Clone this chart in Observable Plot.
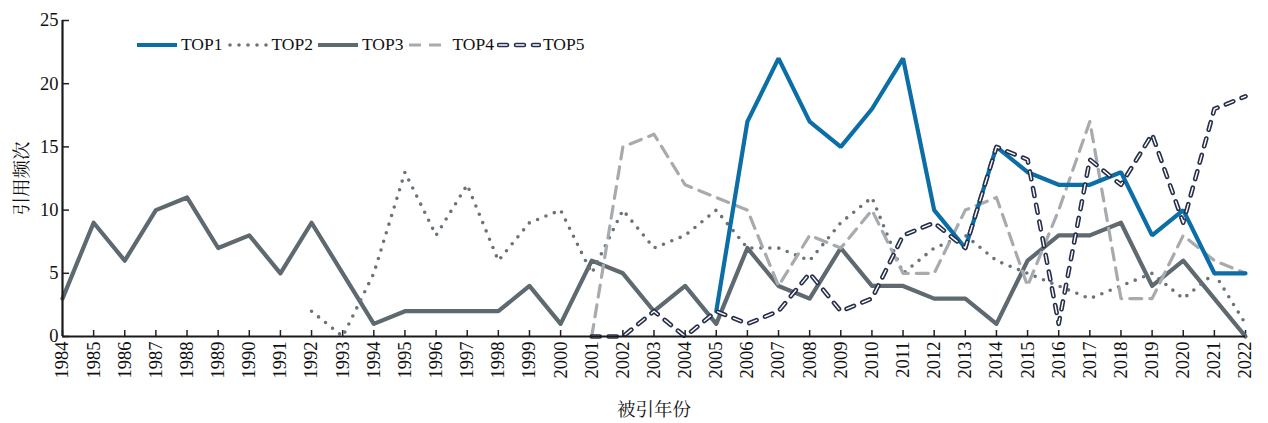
<!DOCTYPE html>
<html><head><meta charset="utf-8">
<script src="https://cdn.jsdelivr.net/npm/d3@7"></script>
<script src="https://cdn.jsdelivr.net/npm/@observablehq/plot@0.6"></script>
<style>
body{margin:0;background:#fff;}
#wrap{position:relative;width:1268px;height:423px;}
#legend{position:absolute;left:135px;top:34px;display:flex;align-items:center;font-family:"Liberation Serif","Noto Serif CJK SC",serif;font-size:17.5px;color:#111;}
#legend .it{display:flex;align-items:center;margin-right:3px;}
#legend svg{display:block;margin-right:2px;}
#wrap svg text{font-family:"Liberation Serif","Noto Serif CJK SC",serif;}
</style></head><body>
<div id="wrap"><div id="legend"></div></div>
<script>
const years = d3.range(1984, 2023);
const seriesNames = ["TOP1","TOP2","TOP3","TOP4","TOP5"];
const _ = null;
// values per year 1984..2022 (null = no data)
const top1 = [_,_,_,_,_,_,_,_,_,_, _,_,_,_,_,_,_,_,_,_, _,2,17,22,17,15,18,22,10,7, 15,13,12,12,13,8,10,5,5];
const top2 = [_,_,_,_,_,_,_,_,2,0, 5,13,8,12,6,9,10,5,10,7, 8,10,7,7,6,9,11,5,7,8, 6,5,4,3,4,5,3,5,1];
const top3 = [3,9,6,10,11,7,8,5,9,5, 1,2,2,2,2,4,1,6,5,2, 4,1,7,4,3,7,4,4,3,3, 1,6,8,8,9,4,6,3,0];
const top4 = [_,_,_,_,_,_,_,_,_,_, _,_,_,_,_,_,_,0,15,16, 12,11,10,4,8,7,10,5,5,10, 11,4,10,17,3,3,8,6,5];
const top5 = [_,_,_,_,_,_,_,_,_,_, _,_,_,_,_,_,_,0,0,2, 0,2,1,2,5,2,3,8,9,7, 15,14,1,14,12,16,9,18,19];
const yTicks = [0,5,10,15,20,25];

const serif = "'Liberation Serif', 'Noto Serif CJK SC', serif";
const styles = {
  TOP1:[{stroke:"#0b6ea7",strokeWidth:4.2,strokeLinejoin:"miter"}],
  TOP2:[{stroke:"#69737a",strokeWidth:3.6,strokeDasharray:"0,9",strokeLinecap:"round"}],
  TOP3:[{stroke:"#5e6970",strokeWidth:4.2}],
  TOP4:[{stroke:"#a7abae",strokeWidth:3.2,strokeDasharray:"12,8"}],
  TOP5:[{stroke:"#27304a",strokeWidth:4.6,strokeDasharray:"8,9",strokeLinecap:"round"},
        {stroke:"#ffffff",strokeWidth:1.4,strokeDasharray:"8,9",strokeLinecap:"round"}]
};
const vals = {TOP1:top1,TOP2:top2,TOP3:top3,TOP4:top4,TOP5:top5};
const data = seriesNames.map(n => years.map((yr,i)=>({year:yr,value:vals[n][i],s:n})));

const drawOrder = ["TOP3","TOP2","TOP4","TOP1","TOP5"];
const lineMarks = [];
for (const n of drawOrder) {
  const d = data[seriesNames.indexOf(n)];
  for (const st of styles[n]) lineMarks.push(Plot.line(d,{x:"year",y:"value",...st}));
}

const chart = Plot.plot({
  width:1268, height:423,
  marginLeft:62, marginRight:23, marginTop:20, marginBottom:87,
  style:{fontFamily:serif, fontSize:"18px", color:"#111", background:"transparent"},
  x:{domain:[1984,2022]},
  y:{domain:[0,25]},
  marks:[
    Plot.axisX({ticks:years, tickFormat:d=>String(d), tickRotate:-90, tickSize:-6, tickPadding:11,
      label:"被引年份", labelAnchor:"center", labelArrow:"none", labelOffset:79,
      fontSize:18.5, stroke:"#222", strokeWidth:1.5}),
    Plot.axisY({ticks:yTicks, tickSize:-7, tickPadding:11,
      label:"引用频次", labelAnchor:"center", labelArrow:"none", labelOffset:48,
      fontSize:18.5, stroke:"#222", strokeWidth:1.5}),
    ...lineMarks,
    Plot.ruleX([1984],{stroke:"#1a1a1a",strokeWidth:2.2}),
    Plot.ruleY([0],{stroke:"#1a1a1a",strokeWidth:2.2})
  ]
});
document.getElementById("wrap").prepend(chart);

// legend
const leg = document.getElementById("legend");
for (const n of seriesNames) {
  const it = document.createElement("div"); it.className="it";
  const w = 44;
  let svg = `<svg width="${w}" height="12">`;
  for (const st of styles[n]) {
    svg += `<line x1="${n==="TOP2"?4:2}" x2="${w-2}" y1="6" y2="6" stroke="${st.stroke}" stroke-width="${st.strokeWidth}" ${st.strokeDasharray?`stroke-dasharray="${st.strokeDasharray}"`:""} stroke-linecap="${st.strokeLinecap||"butt"}"/>`;
  }
  svg += `</svg>`;
  it.innerHTML = svg + `<span>${n}</span>`;
  leg.appendChild(it);
}
</script>
</body></html>
